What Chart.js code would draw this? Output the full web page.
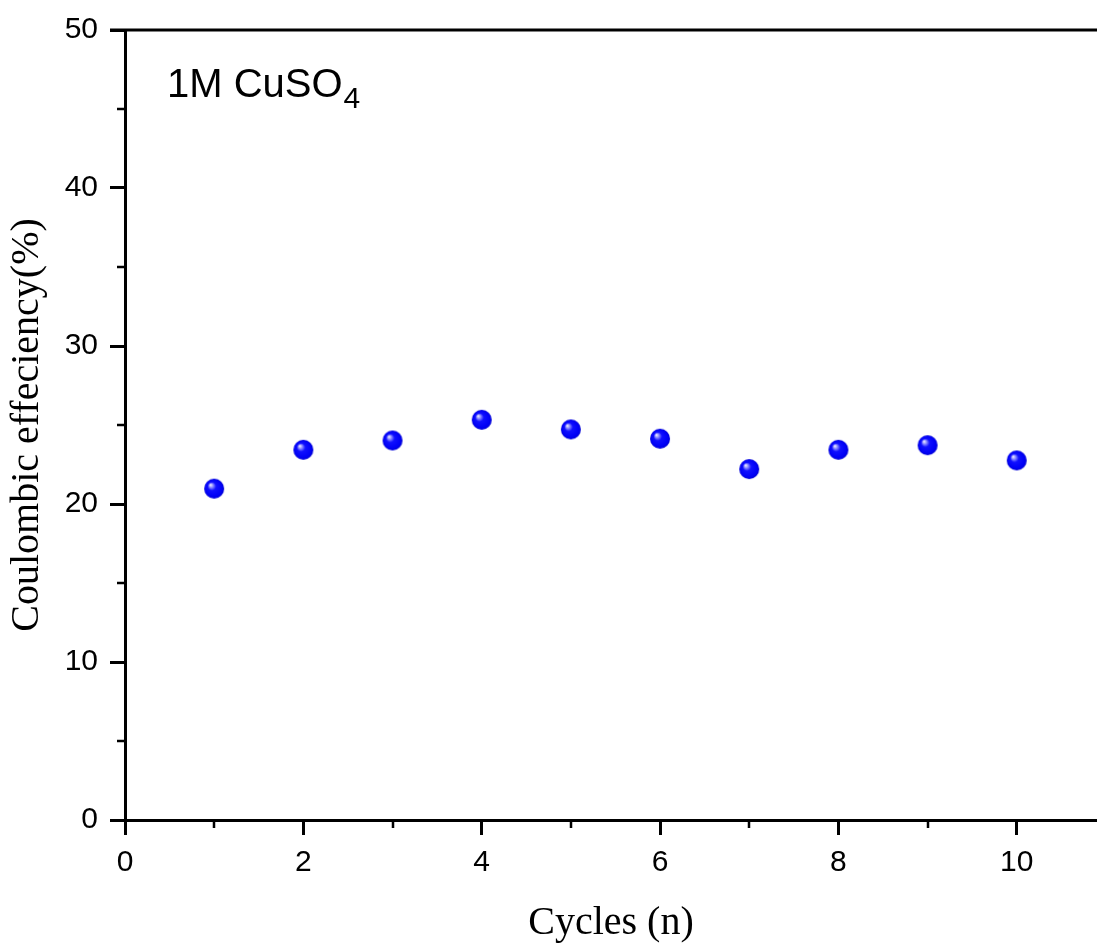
<!DOCTYPE html>
<html>
<head>
<meta charset="utf-8">
<title>Coulombic efficiency – 1M CuSO4</title>
<script src="https://cdn.jsdelivr.net/npm/chart.js@4.4.1/dist/chart.umd.min.js"></script>
<style>
  html, body { margin: 0; padding: 0; background: #fff; }
  #wrap { width: 1097px; height: 947px; position: relative; }
</style>
</head>
<body>
<div id="wrap"><canvas id="chart" width="1097" height="947"></canvas></div>
<script>
/* data */
const cycles     = [1, 2, 3, 4, 5, 6, 7, 8, 9, 10];
const efficiency = [20.97, 23.43, 24.02, 25.33, 24.72, 24.13, 22.21, 23.43, 23.72, 22.76];
const xMinorTicks = [1, 3, 5, 7, 9];
const yMinorTicks = [5, 15, 25, 35, 45];
const xTitle = 'Cycles (n)';
const yTitle = 'Coulombic effeciency(%)';
const noteMain = '1M CuSO';
const noteSub  = '4';

const SANS  = '"Liberation Sans", Arial, sans-serif';
const SERIF = '"Liberation Serif", "Times New Roman", serif';

/* shaded blue ball marker */
function sphere(r) {
  const c = document.createElement('canvas');
  c.width = c.height = r * 2 + 2;
  const g = c.getContext('2d');
  const cx = r + 1, cy = r + 1;
  const grad = g.createRadialGradient(cx - r * 0.38, cy - r * 0.4, 0, cx, cy, r);
  grad.addColorStop(0,    '#ffffff');
  grad.addColorStop(0.18, '#9a9aff');
  grad.addColorStop(0.42, '#1010ff');
  grad.addColorStop(0.85, '#0000f5');
  grad.addColorStop(1,    '#0000d0');
  g.fillStyle = grad;
  g.beginPath();
  g.arc(cx, cy, r, 0, Math.PI * 2);
  g.fill();
  return c;
}
const ball = sphere(10);

/* minor ticks, top frame line and the "1M CuSO4" note */
const decor = {
  id: 'decor',
  afterDraw(chart) {
    const { ctx, chartArea: a, scales: { x, y } } = chart;
    ctx.save();
    ctx.strokeStyle = '#000';
    ctx.lineWidth = 3;
    ctx.beginPath();
    ctx.moveTo(a.left - 15, a.top);
    ctx.lineTo(a.right, a.top);
    ctx.stroke();

    ctx.lineWidth = 2.5;
    ctx.beginPath();
    xMinorTicks.forEach(v => {
      const px = Math.round(x.getPixelForValue(v));
      ctx.moveTo(px, a.bottom);
      ctx.lineTo(px, a.bottom + 8);
    });
    yMinorTicks.forEach(v => {
      const py = Math.round(y.getPixelForValue(v));
      ctx.moveTo(a.left, py);
      ctx.lineTo(a.left - 8, py);
    });
    ctx.stroke();

    ctx.fillStyle = '#000';
    ctx.textBaseline = 'alphabetic';
    ctx.textAlign = 'left';
    ctx.font = '40px ' + SANS;
    const tx = a.left + 42, ty = a.top + 67;
    ctx.fillText(noteMain, tx, ty);
    const w = ctx.measureText(noteMain).width;
    ctx.font = '30px ' + SANS;
    ctx.fillText(noteSub, tx + w + 1, ty + 11);
    ctx.restore();
  }
};

new Chart(document.getElementById('chart'), {
  type: 'scatter',
  data: {
    datasets: [{
      label: 'Coulombic efficiency',
      data: cycles.map((c, i) => ({ x: c, y: efficiency[i] })),
      pointStyle: ball,
      pointRadius: 10,
      pointHoverRadius: 10
    }]
  },
  options: {
    responsive: false,
    animation: false,
    layout: { autoPadding: false, padding: { top: 29, right: 0, bottom: 0, left: 0 } },
    plugins: { legend: { display: false }, tooltip: { enabled: false } },
    scales: {
      x: {
        type: 'linear',
        min: 0,
        max: 10.9,
        afterFit(s) { s.height = 127; },
        ticks: {
          stepSize: 2,
          includeBounds: false,
          color: '#000',
          padding: 10,
          maxRotation: 0,
          font: { family: SANS, size: 30 }
        },
        grid: { drawOnChartArea: false, drawTicks: true, tickLength: 15, tickWidth: 3, tickColor: '#000' },
        border: { display: true, width: 3, color: '#000' },
        title: {
          display: true,
          text: xTitle,
          color: '#000',
          font: { family: SERIF, size: 40 },
          padding: { top: 0, bottom: 0 }
        }
      },
      y: {
        min: 0,
        max: 50,
        afterFit(s) { s.width = 125; },
        ticks: {
          stepSize: 10,
          color: '#000',
          padding: 12,
          font: { family: SANS, size: 30 }
        },
        grid: { drawOnChartArea: false, drawTicks: true, tickLength: 15, tickWidth: 3, tickColor: '#000' },
        border: { display: true, width: 3, color: '#000' },
        title: {
          display: true,
          text: yTitle,
          color: '#000',
          font: { family: SERIF, size: 40 },
          padding: { top: 3, bottom: 0 }
        }
      }
    }
  },
  plugins: [decor]
});
</script>
</body>
</html>
